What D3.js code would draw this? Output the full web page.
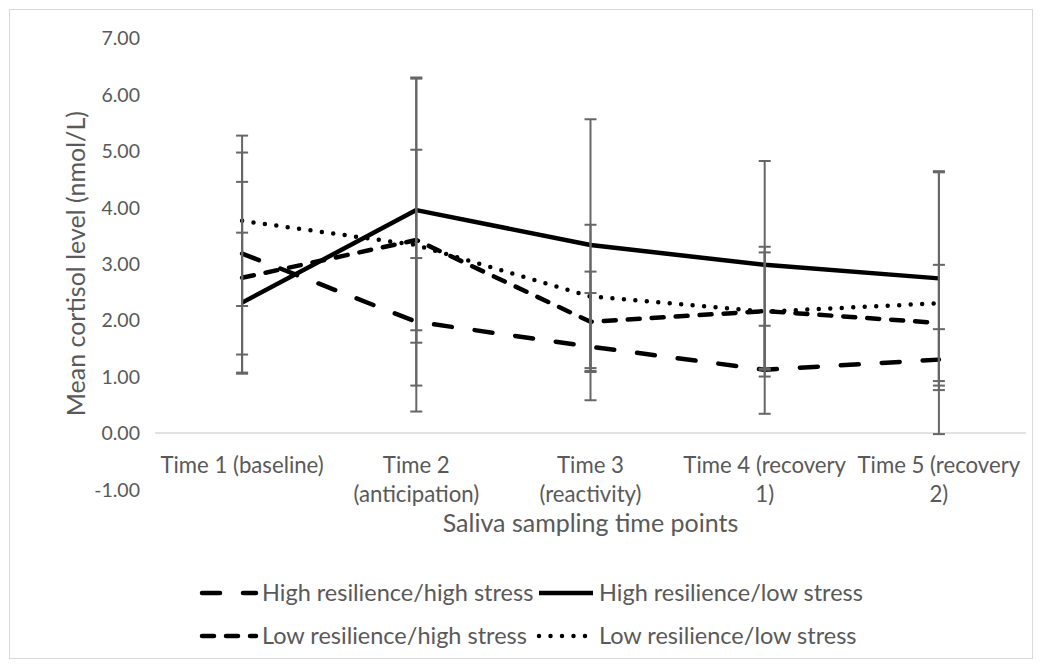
<!DOCTYPE html>
<html>
<head>
<meta charset="utf-8">
<script src="https://cdn.jsdelivr.net/npm/d3@7"></script>
<style>
  body { margin: 0; background: #fff; }
  svg text { font-family: Lato, "Open Sans", sans-serif; fill: #595959; }
</style>
</head>
<body>
<svg id="chart" width="1042" height="668"></svg>
<script>
// category labels, already wrapped the way the chart shows them
const categories = [
  ["Time 1 (baseline)"],
  ["Time 2", "(anticipation)"],
  ["Time 3", "(reactivity)"],
  ["Time 4 (recovery", "1)"],
  ["Time 5 (recovery", "2)"]
];
const yTicks = [-1, 0, 1, 2, 3, 4, 5, 6, 7];

// group means (nmol/L) and error bar half-widths
const hrHsMean = [3.18, 1.97, 1.53, 1.12, 1.30];
const hrHsErr  = [1.79, 1.13, 0.95, 0.78, 0.54];
const hrLsMean = [2.31, 3.95, 3.33, 2.98, 2.74];
const hrLsErr  = [1.24, 2.35, 2.23, 1.84, 1.90];
const lrHsMean = [2.75, 3.42, 1.97, 2.16, 1.95];
const lrHsErr  = [1.70, 1.60, 0.89, 1.04, 1.03];
const lrLsMean = [3.76, 3.33, 2.42, 2.15, 2.30];
const lrLsErr  = [1.51, 2.95, 1.27, 1.15, 2.32];

const seriesNames = [
  "High resilience/high stress",
  "High resilience/low stress",
  "Low resilience/high stress",
  "Low resilience/low stress"
];

const series = [
  { name: seriesNames[0], mean: hrHsMean, err: hrHsErr, dash: "18 23" },
  { name: seriesNames[1], mean: hrLsMean, err: hrLsErr, dash: null },
  { name: seriesNames[2], mean: lrHsMean, err: lrHsErr, dash: "12 12" },
  { name: seriesNames[3], mean: lrLsMean, err: lrLsErr, dash: "0 11.5" }
];

const svg = d3.select("#chart");
const W = 1042, H = 668;

// chart frame
svg.append("rect")
  .attr("x", 9.5).attr("y", 9.5)
  .attr("width", W - 19).attr("height", H - 19)
  .attr("fill", "#fff")
  .attr("stroke", "#d9d9d9");

const x = d3.scaleBand()
  .domain(d3.range(categories.length))
  .range([155, 1026]);
const xc = i => x(i) + x.bandwidth() / 2;

const y = d3.scaleLinear()
  .domain([-1, 7])
  .range([489.4, 38]);

const fmt = v => d3.format(".2f")(v).replace("\u2212", "-");

// y tick labels (no axis line, no gridlines)
const yAxis = d3.axisLeft(y)
  .tickValues(yTicks)
  .tickFormat(fmt)
  .tickSize(0)
  .tickPadding(0);

svg.append("g")
  .attr("transform", "translate(140,0)")
  .call(yAxis)
  .call(g => g.select(".domain").remove())
  .call(g => g.selectAll("text")
    .attr("font-size", 19.5)
    .attr("dy", "0.35em")
    .style("font-family", "Lato, sans-serif")
    .attr("fill", "#595959"));

// horizontal axis at zero
svg.append("line")
  .attr("x1", 155).attr("x2", 1026)
  .attr("y1", y(0)).attr("y2", y(0))
  .attr("stroke", "#d9d9d9")
  .attr("stroke-width", 1.3);

// category labels
const catG = svg.append("g");
categories.forEach((lines, i) => {
  const t = catG.append("text")
    .attr("x", xc(i))
    .attr("y", 465)
    .attr("text-anchor", "middle")
    .attr("font-size", 22.2);
  lines.forEach((ln, j) => {
    t.append("tspan")
      .attr("x", xc(i))
      .attr("dy", j === 0 ? "0.35em" : 29)
      .text(ln);
  });
});

// axis titles
svg.append("text")
  .attr("x", (155 + 1026) / 2)
  .attr("y", 523)
  .attr("dy", "0.35em")
  .attr("text-anchor", "middle")
  .attr("font-size", 25)
  .text("Saliva sampling time points");

svg.append("text")
  .attr("transform", `translate(76,${(38 + 489.4) / 2}) rotate(-90)`)
  .attr("dy", "0.35em")
  .attr("text-anchor", "middle")
  .attr("font-size", 25)
  .text("Mean cortisol level (nmol/L)");

// lines
const line = d3.line()
  .x((d, i) => xc(i))
  .y(d => y(d));

const styleLine = (sel, s) => sel
  .attr("fill", "none")
  .attr("stroke", "#000")
  .attr("stroke-width", 4.5)
  .attr("stroke-linecap", s.dash ? "round" : "butt")
  .attr("stroke-linejoin", "round")
  .attr("stroke-dasharray", s.dash);

const plot = svg.append("g");
series.forEach(s => {
  plot.append("path")
    .datum(s.mean)
    .attr("d", line)
    .call(styleLine, s);
});

// error bars
const errG = svg.append("g")
  .attr("stroke", "#666")
  .attr("stroke-width", 2);
series.forEach(s => {
  s.mean.forEach((m, i) => {
    const lo = m - s.err[i], hi = m + s.err[i];
    errG.append("line")
      .attr("x1", xc(i)).attr("x2", xc(i))
      .attr("y1", y(hi)).attr("y2", y(lo));
    [hi, lo].forEach(v => {
      errG.append("line")
        .attr("x1", xc(i) - 6).attr("x2", xc(i) + 6)
        .attr("y1", y(v)).attr("y2", y(v));
    });
  });
});

// legend
const legendPos = [
  { lx: 200, ly: 593 },
  { lx: 537, ly: 593 },
  { lx: 200, ly: 636 },
  { lx: 537, ly: 636 }
];
const legend = svg.append("g");
series.forEach((s, i) => {
  const p = legendPos[i];
  legend.append("path")
    .attr("d", `M${p.lx + 2},${p.ly}H${p.lx + 56}`)
    .call(styleLine, s);
  legend.append("text")
    .attr("x", p.lx + 62)
    .attr("y", p.ly)
    .attr("dy", "0.35em")
    .attr("font-size", 23.5)
    .text(s.name);
});
</script>
</body>
</html>
